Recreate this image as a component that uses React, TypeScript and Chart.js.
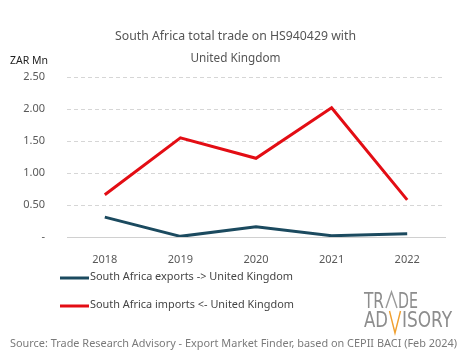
import React, { useEffect, useRef } from "react";
import { Chart, registerables } from "chart.js";

Chart.register(...registerables);

const years = ["2018", "2019", "2020", "2021", "2022"];
const exportsToUK = [0.31, 0.01, 0.16, 0.02, 0.05];
const importsFromUK = [0.66, 1.55, 1.23, 2.02, 0.58];
const yTicks = [0, 0.5, 1, 1.5, 2, 2.5];
const titleLines = ["South Africa total trade on HS940429 with", "United Kingdom"];
const unitLabel = "ZAR Mn";
const seriesLabels = ["South Africa exports -> United Kingdom", "South Africa imports <- United Kingdom"];
const sourceText = "Source: Trade Research Advisory - Export Market Finder, based on CEPII BACI (Feb 2024)";

const FONT = "'Noto Sans', 'Open Sans', sans-serif";
const LOGO_FONT = "'Liberation Sans Narrow', 'DejaVu Sans Condensed', 'Liberation Sans', sans-serif";

function fitText(ctx: CanvasRenderingContext2D, text: string, x: number, y: number, width: number, align: "left" | "center") {
  const w = ctx.measureText(text).width;
  const s = width / w;
  ctx.save();
  ctx.translate(x, y);
  ctx.scale(s, 1);
  ctx.textAlign = align;
  ctx.fillText(text, 0, 0);
  ctx.restore();
}

const dashedGridPlugin = {
  id: "dashedGrid",
  beforeDatasetsDraw(chart: any) {
    const ctx: CanvasRenderingContext2D = chart.ctx;
    const y = chart.scales.y;
    const area = chart.chartArea;
    ctx.save();
    ctx.strokeStyle = "#d6d6d6";
    ctx.lineWidth = 1;
    ctx.setLineDash([4, 3]);
    yTicks.forEach((v) => {
      if (v === 0) return;
      const py = Math.round(y.getPixelForValue(v)) + 0.5;
      ctx.beginPath();
      ctx.moveTo(area.left, py);
      ctx.lineTo(area.right, py);
      ctx.stroke();
    });
    ctx.restore();
  },
};

const extrasPlugin = {
  id: "extras",
  afterDraw(chart: any) {
    const ctx: CanvasRenderingContext2D = chart.ctx;
    ctx.save();
    ctx.textBaseline = "middle";
    // title
    ctx.fillStyle = "#555555";
    ctx.font = `12px ${FONT}`;
    fitText(ctx, titleLines[0], 235.5, 37, 241, "center");
    fitText(ctx, titleLines[1], 235.5, 59, 90, "center");
    // unit
    ctx.fillStyle = "#222222";
    ctx.font = `11px ${FONT}`;
    fitText(ctx, unitLabel, 10, 61, 38, "left");
    // legend
    const ds = chart.data.datasets;
    const rows = [278, 306];
    ds.forEach((d: any, i: number) => {
      ctx.strokeStyle = d.borderColor;
      ctx.lineWidth = 3;
      ctx.beginPath();
      ctx.moveTo(60, rows[i]);
      ctx.lineTo(89, rows[i]);
      ctx.stroke();
      ctx.fillStyle = "#444444";
      ctx.font = `11.5px ${FONT}`;
      fitText(ctx, d.label, 90, rows[i] - 1, i === 0 ? 203 : 204, "left");
    });
    // logo
    ctx.textBaseline = "alphabetic";
    ctx.fillStyle = "#8d8d8d";
    ctx.font = `22px ${LOGO_FONT}`;
    fitText(ctx, "TR", 364, 308, 20, "left");
    fitText(ctx, "DE", 398, 308, 20, "left");
    fitText(ctx, "AD", 364, 327, 24, "left");
    fitText(ctx, "ISORY", 402, 327, 50, "left");
    ctx.lineWidth = 1.4;
    ctx.strokeStyle = "#9a9a9a";
    ctx.beginPath();
    ctx.moveTo(386, 308);
    ctx.lineTo(391.5, 292);
    ctx.lineTo(397, 308);
    ctx.stroke();
    ctx.strokeStyle = "#f0a030";
    ctx.beginPath();
    ctx.moveTo(389.5, 311);
    ctx.lineTo(395, 333);
    ctx.lineTo(400.5, 311);
    ctx.stroke();
    // source
    ctx.textBaseline = "middle";
    ctx.fillStyle = "#7a7a7a";
    ctx.font = `11.5px ${FONT}`;
    fitText(ctx, sourceText, 10, 344, 447, "left");
    ctx.restore();
  },
};

export default function App() {
  const ref = useRef<HTMLCanvasElement | null>(null);
  useEffect(() => {
    if (!ref.current) return;
    const chart = new Chart(ref.current, {
      type: "line",
      data: {
        labels: years,
        datasets: [
          {
            label: seriesLabels[0],
            data: exportsToUK,
            borderColor: "#1b4a5f",
            backgroundColor: "#1b4a5f",
            borderWidth: 3,
            pointRadius: 0,
            tension: 0,
          },
          {
            label: seriesLabels[1],
            data: importsFromUK,
            borderColor: "#e30d14",
            backgroundColor: "#e30d14",
            borderWidth: 3,
            pointRadius: 0,
            tension: 0,
          },
        ],
      },
      plugins: [dashedGridPlugin, extrasPlugin],
      options: {
        responsive: false,
        animation: false,
        layout: { padding: { left: 0, right: 20, top: 77, bottom: 92 } },
        plugins: {
          legend: { display: false },
          title: { display: false },
          tooltip: { enabled: false },
        },
        scales: {
          x: {
            offset: true,
            grid: { display: false },
            border: { display: true, color: "#d0d0d0", width: 1 },
            ticks: { color: "#595959", font: { family: FONT, size: 11 }, padding: 8 },
            afterFit: (s: any) => {
              s.height = 30;
            },
          },
          y: {
            min: 0,
            max: 2.5,
            afterBuildTicks: (s: any) => {
              s.ticks = yTicks.map((v) => ({ value: v }));
            },
            grid: { display: false },
            border: { display: false },
            ticks: {
              color: "#595959",
              font: { family: FONT, size: 11 },
              padding: 14,
              callback: (v: any) => (Number(v) === 0 ? "-" : Number(v).toFixed(2)),
            },
            afterFit: (s: any) => {
              s.width = 67;
            },
          },
        },
      } as any,
    });
    return () => chart.destroy();
  }, []);
  return (
    <div style={{ position: "absolute", left: 0, top: 0, width: 465, height: 359, background: "#fff" }}>
      <canvas ref={ref} width={465} height={359} />
    </div>
  );
}
